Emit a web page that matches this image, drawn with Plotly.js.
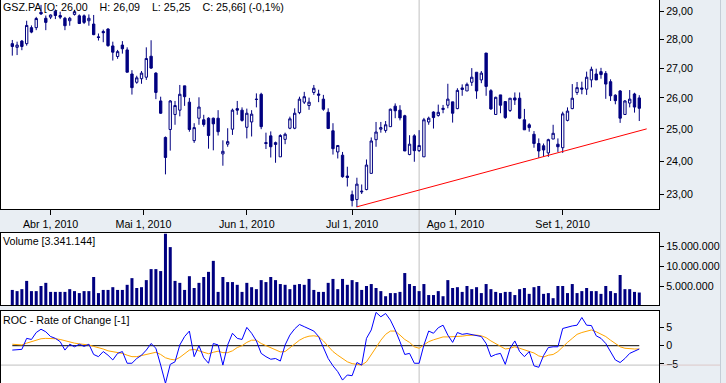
<!DOCTYPE html>
<html><head><meta charset="utf-8">
<script src="https://cdn.plot.ly/plotly-3.0.1.min.js"></script>
<style>
html,body{margin:0;padding:0;overflow:hidden;background:#e9eef3;width:726px;height:383px}
#c{position:absolute;left:0;top:-20px;width:726px;height:423px}
</style></head><body><div id="c"></div>
<script>
// ---- data ----
const openP = [27.85,27.72,27.94,27.85,28.42,28.42,28.98,28.76,28.80,29.02,
28.86,28.76,28.67,28.90,28.85,28.85,28.67,28.55,28.09,28.28,
28.37,27.77,27.40,27.80,27.63,26.80,26.52,26.64,26.69,27.41,
26.83,25.90,24.73,24.98,25.46,25.60,26.40,25.86,24.63,25.34,
25.29,25.34,25.34,25.34,24.22,24.52,24.99,25.65,25.60,25.05,
25.22,25.96,26.12,24.57,24.78,24.51,24.13,24.67,25.02,25.02,
25.52,25.86,25.75,26.18,26.13,25.96,25.53,24.94,24.28,24.18,
23.55,23.00,22.86,23.08,23.15,23.63,24.66,24.99,24.95,25.07,
25.73,25.60,25.42,24.20,24.78,24.32,24.13,25.22,25.54,25.43,
25.62,25.76,25.87,25.65,26.33,26.23,26.52,26.86,26.60,27.52,
26.24,25.46,26.10,25.88,25.59,26.00,25.99,25.29,25.13,24.83,
24.54,24.47,24.25,24.68,24.52,24.41,25.27,25.65,26.18,26.33,
26.29,26.60,26.80,26.88,26.82,26.54,26.09,26.23,25.46,25.83,
26.13,26.00];
const highP = [27.98,27.92,27.98,28.67,28.50,28.81,29.25,28.86,28.90,29.08,
29.00,28.81,28.81,29.06,28.90,28.90,28.90,28.88,28.21,28.35,
28.40,27.92,27.63,27.94,27.72,26.93,26.74,26.90,27.72,27.97,
26.86,26.04,24.76,25.93,25.90,26.43,26.40,26.00,25.18,26.02,
25.45,25.37,25.36,25.60,24.64,25.02,25.65,25.90,25.69,25.65,
25.60,26.15,26.17,24.88,24.92,24.60,24.83,24.88,25.39,25.66,
26.04,26.20,26.01,26.43,26.27,26.10,25.66,25.18,24.48,24.28,
23.83,23.12,23.50,23.30,24.05,24.73,25.22,25.22,25.25,25.65,
25.82,25.76,25.45,24.80,24.83,24.96,25.35,25.39,25.56,25.78,
25.77,26.47,25.87,26.32,26.45,26.51,27.00,26.86,26.90,27.52,
26.29,26.04,26.10,25.88,25.99,26.18,26.18,25.64,25.18,24.93,
24.70,24.54,24.69,25.13,24.70,25.55,25.69,26.46,26.53,26.54,
26.88,27.05,26.98,27.01,26.90,26.62,26.12,26.26,25.93,26.26,
26.17,26.09];
const lowP = [27.43,27.45,27.62,27.78,28.22,28.33,28.88,28.33,28.73,28.73,
28.73,28.33,28.49,28.86,28.55,28.55,28.49,28.15,27.96,27.90,
27.74,27.26,27.32,27.50,26.86,26.11,26.47,26.47,26.60,26.97,
25.96,25.48,23.60,24.32,25.13,25.40,25.74,24.91,24.56,25.13,
25.07,24.38,24.33,24.79,23.86,24.44,24.81,25.45,25.23,24.70,
24.76,25.69,24.99,24.37,24.11,23.95,24.13,24.52,24.99,24.99,
25.47,25.80,25.61,26.10,25.86,25.58,25.00,24.20,24.08,23.50,
23.24,22.66,22.64,23.02,23.13,23.63,24.44,24.88,24.88,25.07,
25.34,25.27,24.31,24.18,23.98,24.28,24.13,25.13,25.01,25.39,
25.50,25.66,25.20,25.63,26.07,26.23,26.40,25.97,26.49,26.07,
25.61,25.45,25.50,25.32,25.54,25.77,25.31,24.97,24.91,24.41,
24.10,24.13,24.13,24.68,24.28,24.25,25.24,25.63,26.10,26.12,
26.10,26.35,26.60,26.64,25.97,25.90,25.79,25.19,25.45,25.69,
25.52,25.25];
const closeP = [27.75,27.80,27.75,28.50,28.26,28.75,28.92,28.61,28.88,28.86,
28.80,28.49,28.76,29.00,28.57,28.61,28.76,28.17,28.07,28.24,
27.78,27.55,27.57,27.67,26.86,26.34,26.67,26.83,27.33,27.00,
26.18,25.50,24.11,25.90,25.75,26.12,26.04,24.98,25.04,25.70,
25.14,24.79,25.16,24.91,24.30,24.60,25.60,25.60,25.27,25.50,
25.47,25.95,25.07,24.54,24.44,24.57,24.79,24.83,25.32,25.50,
25.96,26.04,25.86,26.32,26.09,25.63,25.01,24.38,24.48,23.53,
23.51,22.83,23.31,23.10,23.88,24.62,24.90,25.04,25.13,25.63,
25.58,25.35,24.31,24.52,24.32,24.48,25.29,25.34,25.36,25.53,
25.66,25.96,25.50,26.25,26.28,26.45,26.69,26.23,26.83,26.38,
25.64,26.02,25.76,25.36,25.99,25.93,25.34,24.97,25.04,24.54,
24.31,24.34,24.66,24.86,24.44,25.48,25.57,25.99,26.34,26.29,
26.69,26.96,26.60,26.78,26.46,26.07,25.91,25.34,25.90,25.96,
25.70,25.66];
const volume = [4.0e6,3.7e6,4.2e6,6.3e6,3.7e6,3.7e6,5.0e6,5.8e6,3.5e6,3.5e6,
3.5e6,3.5e6,4.2e6,3.7e6,3.2e6,3.7e6,3.7e6,7.3e6,3.2e6,4.0e6,
4.0e6,4.7e6,4.0e6,4.0e6,5.3e6,7.0e6,4.5e6,4.7e6,6.5e6,9.3e6,
9.3e6,8.8e6,18.3e6,14.9e6,6.3e6,5.8e6,4.0e6,7.5e6,4.5e6,5.8e6,
7.3e6,8.6e6,11.4e6,3.5e6,7.3e6,6.0e6,6.0e6,5.3e6,3.5e6,5.8e6,
4.7e6,4.2e6,6.5e6,6.0e6,7.3e6,6.5e6,5.5e6,5.3e6,4.2e6,5.3e6,
5.5e6,5.3e6,6.8e6,4.0e6,3.5e6,3.5e6,5.8e6,6.8e6,4.2e6,6.8e6,
5.3e6,6.5e6,6.0e6,4.0e6,5.0e6,5.5e6,4.5e6,3.7e6,2.4e6,3.2e6,
3.2e6,3.5e6,8.3e6,5.5e6,5.0e6,3.7e6,5.5e6,2.7e6,2.7e6,3.7e6,
2.4e6,6.5e6,4.5e6,4.7e6,3.5e6,5.0e6,4.2e6,4.7e6,3.2e6,5.5e6,
4.2e6,3.5e6,3.2e6,3.5e6,3.5e6,2.7e6,4.2e6,4.5e6,3.0e6,4.7e6,
5.0e6,3.0e6,3.2e6,1.9e6,5.0e6,5.0e6,3.2e6,5.5e6,3.2e6,3.7e6,
4.5e6,3.7e6,3.7e6,3.0e6,5.0e6,3.7e6,3.2e6,7.8e6,4.2e6,4.2e6,
3.5e6,3341144];
const roc = [-1.2,-1.2,-1.0,2.0,1.7,3.6,4.5,3.8,2.5,2.0,
1.1,-1.2,0.4,-0.3,0.4,-0.2,0.4,-2.4,-3.0,-1.6,
-2.6,-3.9,-2.1,-1.6,-4.8,-4.8,-3.5,-2.6,-1.2,0.6,
-0.7,-5.3,-10.3,-5.1,-4.4,0.2,2.5,4.0,-3.0,0.0,
-3.3,-4.8,0.6,0.2,-5.3,0.2,3.4,2.0,1.7,5.0,
3.4,1.3,-2.1,-3.0,-3.7,-3.5,-4.2,0.2,2.9,4.6,
5.8,5.2,4.6,4.0,2.5,-0.7,-3.5,-5.5,-7.1,-9.4,
-8.0,-8.2,-4.6,-5.3,2.0,4.3,9.1,7.9,8.8,7.0,
4.3,1.1,-2.4,-2.1,-4.8,-4.8,0.2,4.0,3.4,4.9,
5.6,2.9,0.9,3.6,3.1,3.3,3.1,2.9,2.5,0.6,
-3.0,-2.4,-2.1,-5.1,-0.7,1.3,-1.6,-3.0,-1.6,-5.5,
-5.9,-2.7,-0.5,-0.3,-0.3,4.7,5.1,5.4,5.6,7.7,
5.6,5.5,2.7,2.0,0.6,-1.6,-3.9,-4.6,-3.5,-2.1,
-1.4,-0.9];
const rocAvg = [0.4,0.2,0.2,0.7,1.1,1.6,1.9,2.0,2.0,1.9,
1.7,1.3,1.0,0.7,0.5,0.4,0.2,-0.2,-0.5,-0.9,
-1.4,-1.6,-1.9,-2.1,-2.6,-3.0,-3.0,-2.7,-2.3,-1.9,
-1.8,-2.4,-3.3,-3.7,-3.9,-3.2,-2.1,-1.2,-1.0,-1.4,
-1.8,-2.2,-1.8,-1.5,-1.9,-1.9,-1.4,-0.5,0.0,0.9,
1.5,1.5,0.6,0.0,-0.5,-1.1,-1.7,-1.6,-0.5,0.4,
1.5,2.2,2.6,2.7,2.5,1.3,-0.3,-1.6,-2.6,-3.5,
-4.4,-4.9,-5.1,-5.3,-4.4,-2.6,-0.5,1.5,3.1,4.0,
4.0,2.9,1.7,0.9,-0.3,-0.7,0.2,1.1,1.6,2.1,
2.4,2.4,2.4,2.6,2.6,2.8,2.9,2.9,2.7,2.2,
1.3,0.5,-0.3,-0.9,-0.7,-0.3,-0.7,-1.1,-1.4,-2.0,
-2.8,-3.1,-2.6,-2.4,-1.6,-0.3,0.9,2.0,3.1,3.6,
4.0,4.3,3.8,3.1,2.5,1.5,0.6,-0.3,-0.7,-0.9,
-0.9,-0.9];
// trend line: from the low of session 72 to beyond the last session
const trendX = [72, 132.55];
const trendY = [22.65, 25.0];
// month ticks (session positions) and labels
const monthTickPos = [8, 27.4, 49, 71, 92.6, 115];
const monthLabels = ['Abr 1, 2010','Mai 1, 2010','Jun 1, 2010','Jul 1, 2010','Ago 1, 2010','Set 1, 2010'];
const priceTicks = [23,24,25,26,27,28,29];
const volTicks = [5e6,10e6,15e6];
const rocTicks = [-5,0,5];
const cursorSession = 85;
const cursorRoc = -5.3;

// ---- build ----
const N = closeP.length;
const xs = []; for (let i=0;i<N;i++) xs.push(i);
const NAVY = '#000080';
const FONT = 'Liberation Sans, Arial, sans-serif';
const H = 423, OFF = 20;
const py = y => 1 - (y + OFF) / H;
const px = x => (x - 1) / 658;
const XR = [-2.361, 135.12];
const SP = '\u00a0\u00a0\u00a0 ';

const traces = [
  {type:'candlestick', x:xs, open:openP, high:highP, low:lowP, close:closeP,
   xaxis:'x', yaxis:'y', whiskerwidth:0, hoverinfo:'skip',
   increasing:{line:{color:NAVY,width:1}, fillcolor:'#ffffff'},
   decreasing:{line:{color:NAVY,width:1}, fillcolor:NAVY}},
  {type:'scatter', mode:'lines', x:trendX, y:trendY, xaxis:'x', yaxis:'y',
   line:{color:'#ff0000', width:1}, hoverinfo:'skip', cliponaxis:false},
  {type:'bar', x:xs, y:volume, xaxis:'x2', yaxis:'y2', width:0.63,
   marker:{color:NAVY, line:{width:0}}, hoverinfo:'skip'},
  {type:'scatter', mode:'lines', x:xs, y:rocAvg, xaxis:'x3', yaxis:'y3',
   line:{color:'#ffa500', width:1}, hoverinfo:'skip'},
  {type:'scatter', mode:'lines', x:xs, y:roc, xaxis:'x3', yaxis:'y3',
   line:{color:'#0000ff', width:1}, hoverinfo:'skip'}
];

const axBase = {showline:true, mirror:true, linecolor:'#000', linewidth:1,
  showgrid:false, zeroline:false, fixedrange:true,
  tickfont:{family:FONT, size:10.7, color:'#000'}};

const layout = {
  width:726, height:H, margin:{l:1, r:67, t:0, b:0},
  paper_bgcolor:'#e9eef3', plot_bgcolor:'#ffffff',
  separators:',.', showlegend:false, dragmode:false,
  font:{family:FONT, size:10.7, color:'#000'},
  xaxis:Object.assign({}, axBase, {domain:[0,1], anchor:'y', range:XR,
    ticks:'outside', ticklen:5, tickcolor:'#000', tickvals:monthTickPos, ticktext:monthLabels,
    rangeslider:{visible:false}}),
  yaxis:Object.assign({}, axBase, {domain:[py(209),1], anchor:'x', type:'log',
    range:[1.35386,1.47984], side:'right', ticks:'outside', ticklen:4, tickcolor:'#000',
    tickvals:priceTicks, tickformat:'.2f'}),
  xaxis2:Object.assign({}, axBase, {domain:[0,1], anchor:'y2', range:XR, showticklabels:false, ticks:''}),
  yaxis2:Object.assign({}, axBase, {domain:[py(305),py(233)], anchor:'x2',
    range:[0.165e6,18.49e6], side:'right', ticks:'outside', ticklen:4, tickcolor:'#000',
    tickvals:volTicks, tickformat:',d'}),
  xaxis3:Object.assign({}, axBase, {domain:[0,1], anchor:'y3', range:XR, showticklabels:false, ticks:''}),
  yaxis3:Object.assign({}, axBase, {domain:[0,py(311)], anchor:'x3',
    range:[-15.66,9.48], side:'right', ticks:'outside', ticklen:4, tickcolor:'#000',
    tickvals:rocTicks, tickformat:'d'}),
  shapes:[
    {type:'line', xref:'x', yref:'paper', x0:cursorSession, x1:cursorSession, y0:0, y1:1,
     line:{color:'#c0c0c0', width:1}, layer:'below'},
    {type:'line', xref:'x3', yref:'y3', x0:0, x1:N-1, y0:0, y1:0,
     line:{color:'#000000', width:1}, layer:'below'},
    {type:'line', xref:'paper', yref:'y3', x0:px(0), x1:1, y0:cursorRoc, y1:cursorRoc,
     line:{color:'#c0c0c0', width:1}, layer:'below'},
    {type:'line', xref:'paper', yref:'y3', x0:1.0015, x1:px(721), y0:cursorRoc, y1:cursorRoc,
     line:{color:'#dcc8c8', width:1}},
    {type:'line', xref:'paper', yref:'paper', x0:px(720.5), x1:px(720.5), y0:0, y1:1,
     line:{color:'#c5cdd6', width:1}}
  ],
  annotations:[
    {xref:'paper', yref:'paper', x:px(1), y:py(7), xanchor:'left', yanchor:'middle', showarrow:false,
     text:'GSZ.PA [O: 26,00' + SP + 'H: 26,09' + SP + 'L: 25,25' + SP + 'C: 25,66] (-0,1%)',
     font:{family:FONT, size:10.7, color:'#000'}},
    {xref:'paper', yref:'paper', x:px(1), y:py(241), xanchor:'left', yanchor:'middle', showarrow:false,
     text:'Volume [3.341.144]', font:{family:FONT, size:10.7, color:'#000'}},
    {xref:'paper', yref:'paper', x:px(1), y:py(320), xanchor:'left', yanchor:'middle', showarrow:false,
     text:'ROC - Rate of Change [-1]', font:{family:FONT, size:10.7, color:'#000'}}
  ]
};

Plotly.newPlot('c', traces, layout, {staticPlot:true, displayModeBar:false});
</script></body></html>
